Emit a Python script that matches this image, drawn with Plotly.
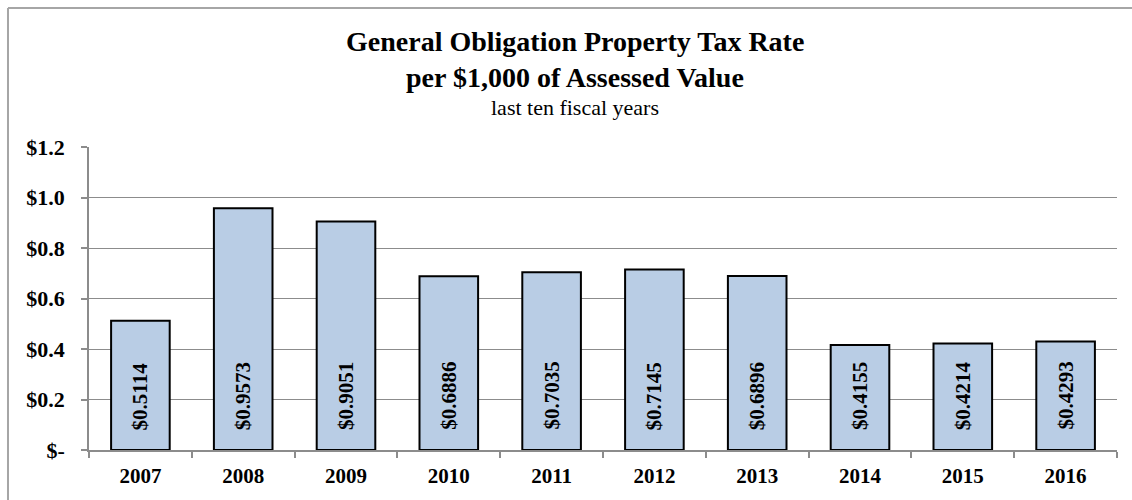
import plotly.graph_objects as go

years = ["2007", "2008", "2009", "2010", "2011", "2012", "2013", "2014", "2015", "2016"]
rates = [0.5114, 0.9573, 0.9051, 0.6886, 0.7035, 0.7145, 0.6896, 0.4155, 0.4214, 0.4293]
y_ticks = [0, 0.2, 0.4, 0.6, 0.8, 1.0, 1.2]
y_tick_text = ["$-", "$0.2", "$0.4", "$0.6", "$0.8", "$1.0", "$1.2"]

SERIF = "Liberation Serif, Times New Roman, serif"
GRID = "#8c8c8c"

fig = go.Figure()
fig.add_trace(go.Bar(
    x=years, y=rates,
    marker=dict(color="#b9cde5", line=dict(color="black", width=2)),
    width=0.57,
    hoverinfo="x+y",
))

# vertical value labels sitting near the base of each bar
for i, v in enumerate(rates):
    fig.add_annotation(
        x=i, y=0, text=f"<b>${v:.4f}</b>", showarrow=False,
        textangle=-90, yanchor="bottom", yshift=18,
        font=dict(family=SERIF, size=21, color="black"),
    )

title_lines = [
    ("<b>General Obligation Property Tax Rate</b>", 28, 1.347),
    ("<b>per $1,000 of Assessed Value</b>", 28, 1.228),
    ("last ten fiscal years", 22, 1.132),
]
for txt, size, ypos in title_lines:
    fig.add_annotation(
        xref="paper", yref="paper", x=0.4728, y=ypos, text=txt,
        showarrow=False, xanchor="center", yanchor="middle",
        font=dict(family=SERIF, size=size, color="black"),
    )

# outer chart border (only the top and left edges fall inside the picture)
fig.add_shape(
    type="line", xref="paper", yref="paper",
    x0=-0.0788, x1=1.5, y0=1.4587, y1=1.4587,
    line=dict(color="#a6a6a6", width=2), layer="below",
)
fig.add_shape(
    type="line", xref="paper", yref="paper",
    x0=-0.0788, x1=-0.0788, y0=-0.5, y1=1.4587,
    line=dict(color="#a6a6a6", width=2), layer="below",
)

fig.update_layout(
    width=1132, height=500,
    paper_bgcolor="white", plot_bgcolor="white",
    margin=dict(l=89, r=15, t=147, b=50),
    showlegend=False,
)
fig.update_xaxes(
    type="category", range=[-0.5, len(years) - 0.5], autorange=False,
    automargin=False,
    showline=True, linecolor=GRID, linewidth=1.5,
    ticks="outside", tickson="boundaries", ticklen=6, tickcolor=GRID, tickwidth=1.5,
    tickfont=dict(family=SERIF, size=21, color="black", weight="bold"),
    tickangle=0, ticklabelstandoff=6, showgrid=False,
)
fig.update_yaxes(
    range=[0, 1.2], tickvals=y_ticks, ticktext=y_tick_text,
    automargin=False,
    showline=True, linecolor=GRID, linewidth=1.5,
    ticks="outside", ticklen=6, tickcolor=GRID, tickwidth=1.5,
    showgrid=True, gridcolor=GRID, gridwidth=1.2,
    zeroline=False,
    tickfont=dict(family=SERIF, size=22, color="black", weight="bold"),
    ticklabelstandoff=12,
)

# drop the default page margin so the figure fills the window exactly
fig.write_html(
    "out.html",
    config={"displayModeBar": False},
    post_script="document.body.style.margin='0';",
)
